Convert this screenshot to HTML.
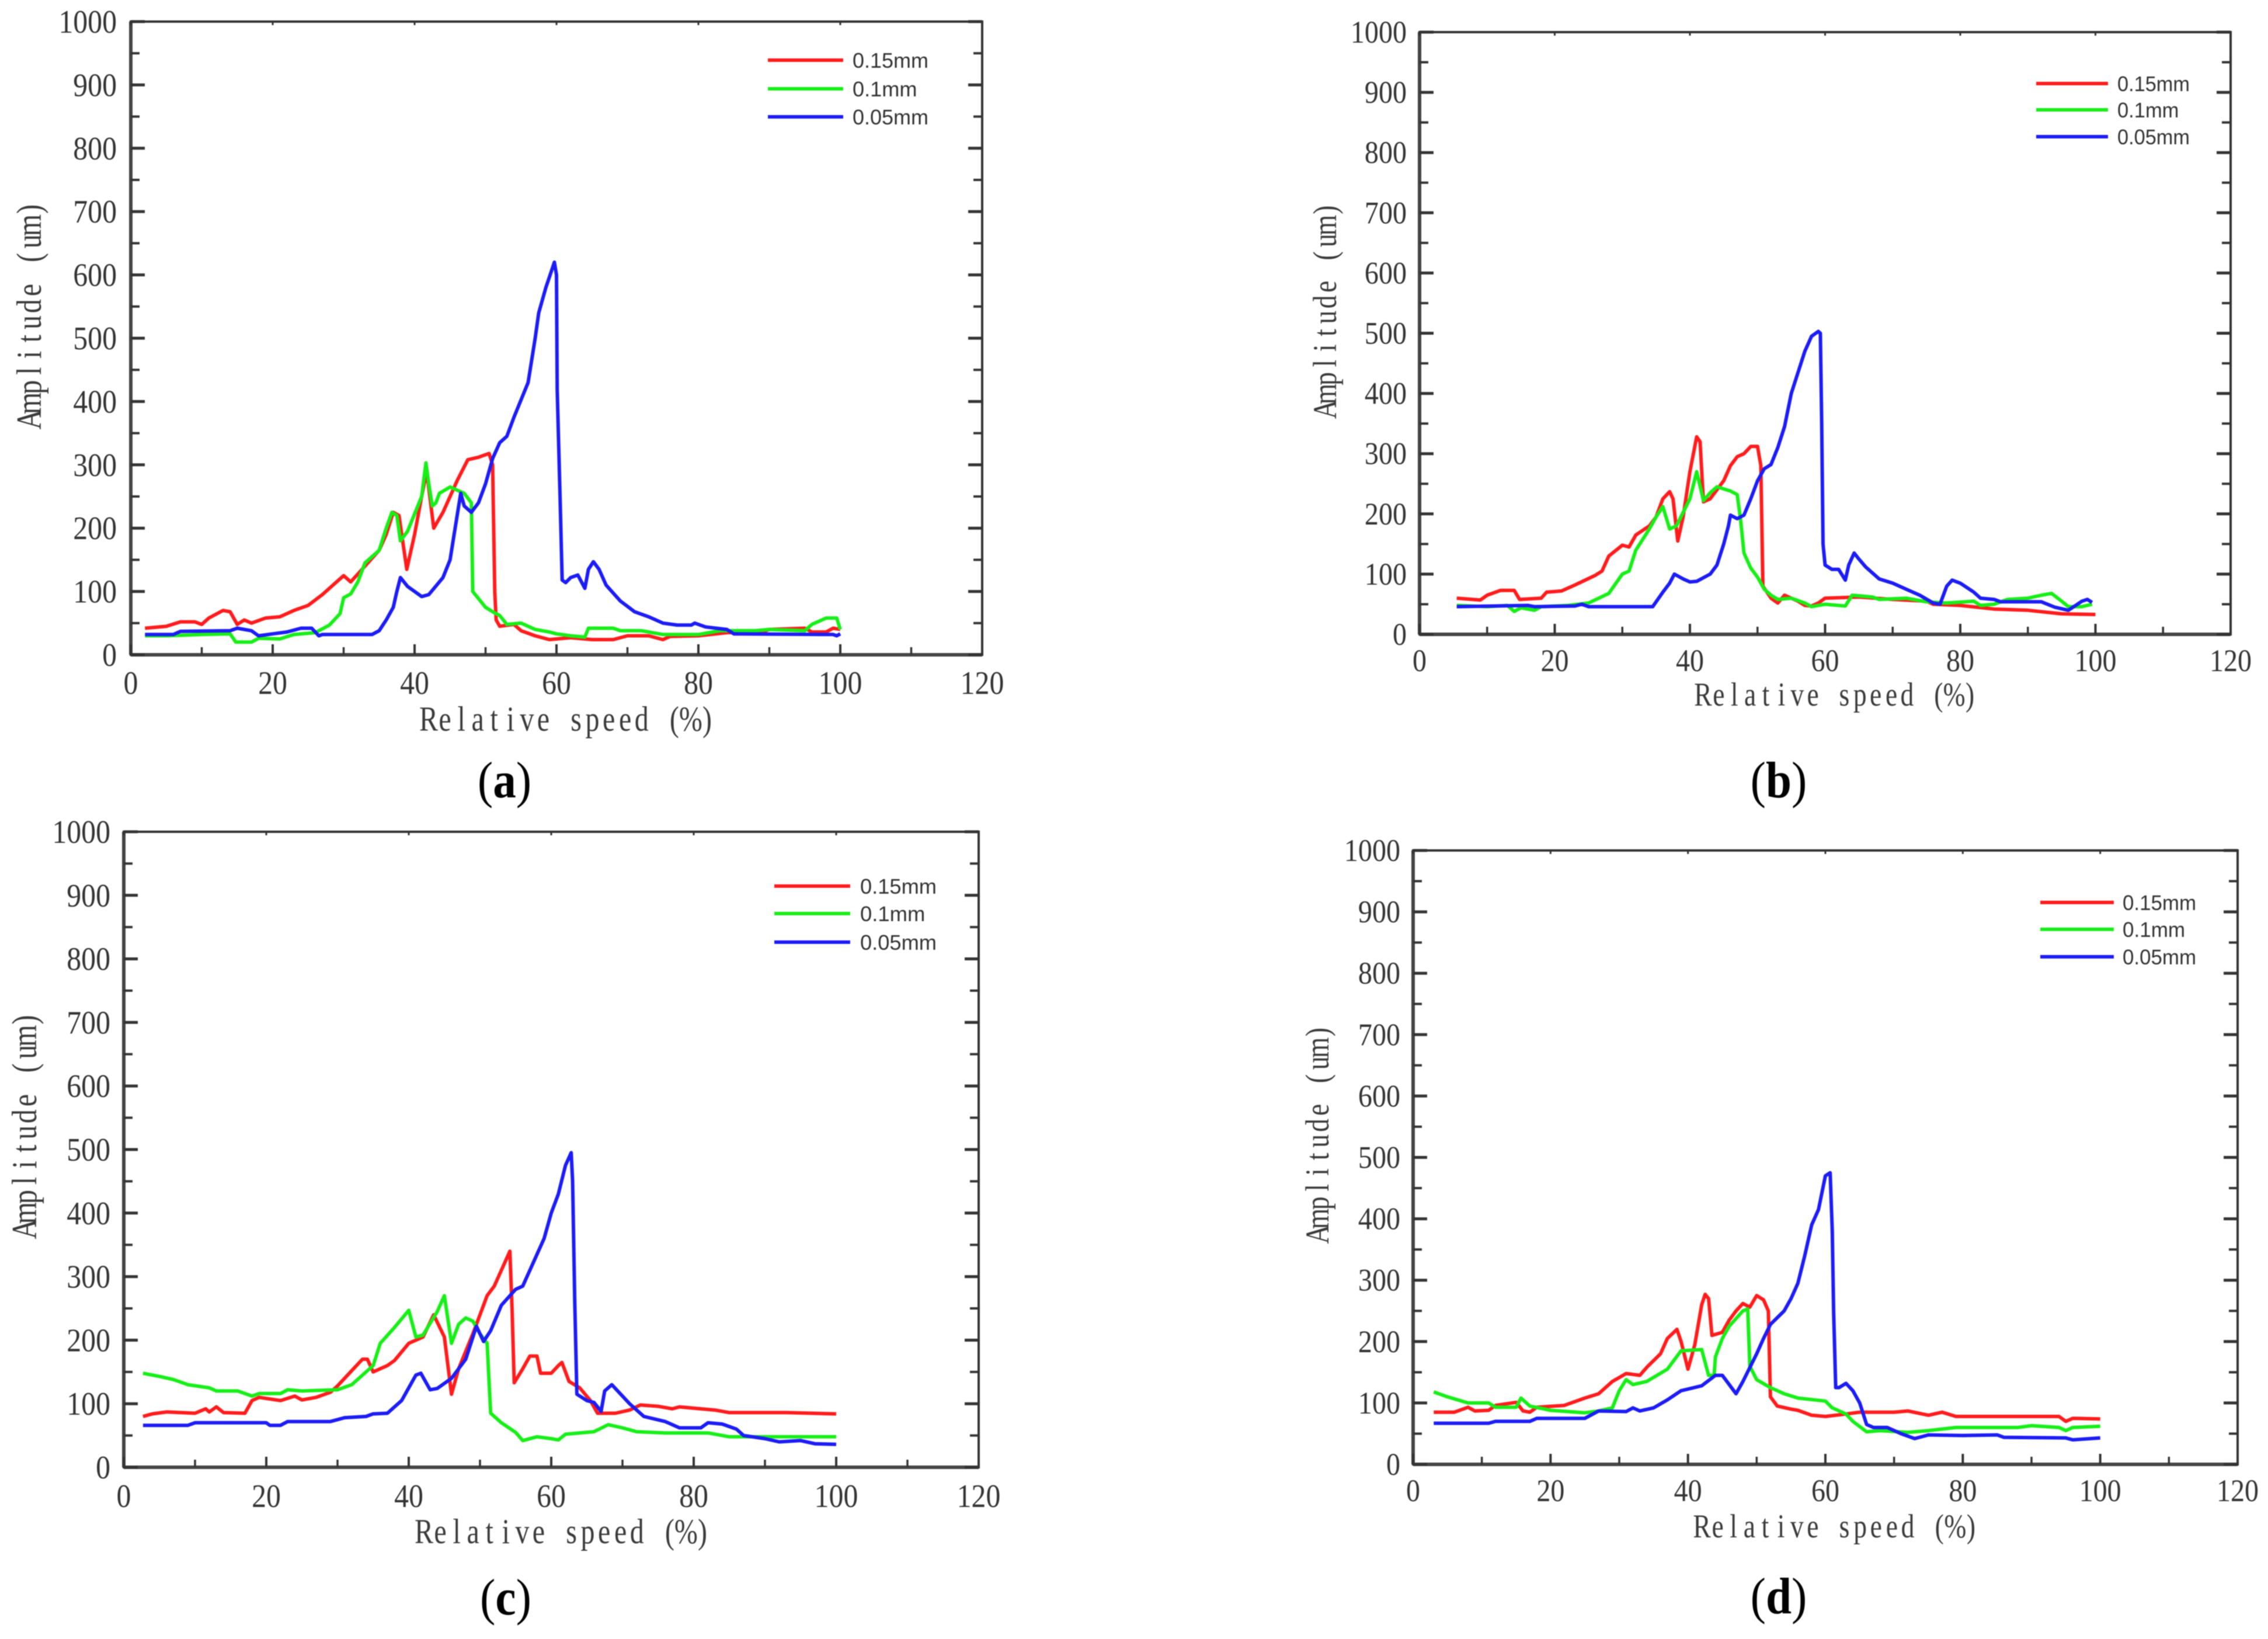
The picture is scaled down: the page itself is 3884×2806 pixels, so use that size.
<!DOCTYPE html>
<html lang="en">
<head>
<meta charset="utf-8">
<title>Amplitude vs relative speed</title>
<style>
html,body{margin:0;padding:0;background:#fff;}
#chart{display:block;width:3884px;height:2806px;filter:blur(0.8px);}
</style>
</head>
<body>
<svg id="chart" xmlns="http://www.w3.org/2000/svg" width="3884" height="2806" viewBox="0 0 3884 2806"></svg>
<script>
const xTickLabels = [0, 20, 40, 60, 80, 100, 120];
const xMinorTicks = [10, 30, 50, 70, 90, 110];
const yTickLabels = [0, 100, 200, 300, 400, 500, 600, 700, 800, 900, 1000];
const yMinorTicks = [50, 150, 250, 350, 450, 550, 650, 750, 850, 950];
const seriesNames = ['0.15mm', '0.1mm', '0.05mm'];

const aRedSpeed = [2,5,7,9,10,11,13,14,15,16,17,19,21,23,25,27,29,30,31,33,35,36,37,37.8,38.9,40,41,41.7,42.7,44,45,46,47.5,49,50.5,51,51.3,51.5,52,54,55,57,59,62,65,68,70,73,75,76,80,84,89,90,95,96,98,99,100];
const aRedAmp = [42,45,52,52,48,58,70,68,48,55,50,58,60,70,78,95,115,125,115,140,165,190,225,220,135,190,250,290,200,225,250,275,308,312,318,300,100,55,45,48,38,30,24,27,24,24,30,30,24,29,30,35,36,40,42,36,36,42,40];
const aGreenSpeed = [2,5,10,14,14.8,17,18,21,23,26,28,29.5,30,31,32,33,35,36,36.8,37.5,38,39,41,41.6,42,42.5,43,43.5,45,47,48,48.2,50,51,52,53,55,57,59,60,62,64,64.5,68,69,72,75,80,83,88,90,95,96,98,99.5,100];
const aGreenAmp = [30,30,32,33,20,20,26,25,32,35,47,65,90,96,115,145,165,200,225,220,180,195,250,303,270,235,240,255,265,255,240,100,75,68,62,48,50,40,36,33,30,28,42,42,38,38,32,32,38,38,40,38,48,58,58,40];
const aBlueSpeed = [2,6,7,14,15,17,18,20,22,24,25.5,26.5,27,34,35,36,37,37.5,38,39,41,42,44,45,45.5,46.5,47,48,49,50,51,52,53,54,56,57,57.5,58.5,59.7,60,60.1,60.5,60.8,61.3,62,63,64,64.5,65.2,66,67,69,71,73,75,77,79,79.5,81,84,85,99,99.5,100];
const aBlueAmp = [32,32,37,38,42,38,30,33,36,42,42,30,32,32,38,55,75,100,122,108,92,95,122,150,185,255,235,225,240,270,310,335,345,375,430,500,540,580,620,600,420,250,118,114,122,126,105,135,147,135,110,85,68,60,50,47,47,50,44,40,33,32,30,33];

const bRedSpeed = [5.5,9,10,12,14,14.8,18,18.8,21,23,26,27,28,30,31,32,34,35,36,37,37.5,38.2,39,40,41,41.5,42,43,45,46,47,48,49,50,50.5,50.8,52,53,54,56,57,58,59,60,65,70,75,76,80,85,90,95,100];
const bRedAmp = [60,57,65,73,73,58,60,70,72,82,98,105,130,148,145,165,180,195,225,237,225,155,195,270,328,320,220,225,255,280,295,300,312,312,280,80,60,52,65,55,48,47,52,60,62,58,55,50,48,42,40,34,33];
const bGreenSpeed = [5.5,10,13,14,15,17,18,22,25,28,30,31,32,34,35,36,37,38,40,41,42,43,44,46,47,47.5,48,49,50,51,52,53,55,57,58,60,63,64,67,68,72,75,78,82,83,85,87,90,92,93.5,95,96,98,99.5];
const bGreenAmp = [48,46,48,38,44,40,46,48,52,68,100,105,140,175,195,212,175,180,225,270,222,235,245,238,232,190,135,110,95,75,65,58,60,52,46,50,47,65,62,58,60,54,52,55,48,50,58,60,65,68,55,46,46,50];
const bBlueSpeed = [5.5,16,17,23,24,25,34.5,36,37,37.7,39,40,41,43,44,45,45.7,46,47,48,49,50,51,52,53,54,55,56,57,58,59,59.3,59.5,59.7,60,61,62,63,63.5,64.3,65,66,68,70,72,74,76,77,78,78.8,80,82,83,85,86,92,94,96,98,98.8,99.5];
const bBlueAmp = [46,48,46,47,50,46,46,70,85,100,92,87,88,100,115,150,180,198,192,198,225,255,275,282,310,345,400,435,470,495,503,500,350,150,115,108,108,90,115,135,125,112,92,85,75,65,52,50,80,90,85,70,60,58,54,54,45,40,55,58,53];

const cRedSpeed = [2.7,4,6,10,11.5,12,13,14,17,18,19,22,24,25,27,29,30,32,33.5,34.2,35,37,38,40,42,43.5,45,46,47,49,50,51,52,53,54.2,54.5,54.8,56,57,58,58.5,60,61,61.5,62.5,64,65.5,66.5,69,71,72.5,75,77,78,83,85,93,100];
const cRedAmp = [80,84,87,85,92,87,95,86,85,105,110,105,112,106,110,118,128,152,170,170,150,160,168,195,205,240,205,115,155,210,240,270,285,310,340,250,133,155,175,175,148,148,160,165,135,125,105,85,85,90,98,96,92,95,90,86,86,84];
const cGreenSpeed = [2.7,5,7,9,12,13,16,18,19,22,23,25,30,32,34,35,36,38,40,41,42,44,45,46,47,48,49,50,51,51.5,53,55,56,58,60,61,62,66,68,70,72,76,82,85,100];
const cGreenAmp = [148,143,138,130,125,120,120,112,116,116,122,120,122,130,150,160,195,220,247,205,208,245,270,195,225,235,230,210,195,85,70,55,42,48,45,43,52,56,67,62,56,54,54,48,48];
const cBlueSpeed = [2.7,9,10,20,20.5,22,23,29,31,34,35,37,39,40,41,41.7,43,44,46,48,49.5,50.5,51.5,53,55,56,57,59,60,61,62,62.8,63,63.3,63.6,65,66,67,67.5,68.5,69.5,71,73,76,78,81,82,84,86,87,90,92,95,97,100];
const cBlueAmp = [66,66,70,70,66,66,72,72,78,80,84,85,105,125,145,148,122,124,140,170,222,198,215,255,280,285,310,360,400,430,475,495,450,260,115,105,102,88,120,130,118,100,80,72,62,62,70,68,60,50,45,40,42,37,36];

const dRedSpeed = [3,6,8,9,11,12,15,16,17,18,22,25,27,29,31,33,34,36,37,38.4,39,40,41,42,42.5,43,43.5,45,46,47,48,49,50,51,51.7,52,53,55,56,58,60,63,65,70,72,75,77,79,85,94,95,96,100];
const dRedAmp = [85,85,93,87,88,96,101,87,85,93,96,108,115,135,148,145,158,180,205,220,200,155,195,260,277,270,210,215,235,250,262,256,275,268,250,110,95,90,88,80,78,82,85,85,87,80,85,78,78,78,70,75,74];
const dGreenSpeed = [3,5,8,11,12,15,15.7,17,20,25,27,29,30,31,32,34,37,38,39,42,43,43.8,44,45,46,48,48.7,49,50,52,54,56,60,61,63,64,66,68,72,75,79,88,90,94,95,96,100];
const dGreenAmp = [118,110,100,100,93,93,108,95,88,84,87,92,120,138,130,135,155,170,185,187,145,145,175,205,225,250,253,160,138,125,115,108,103,92,82,70,53,55,52,55,60,60,63,60,55,60,62];
const dBlueSpeed = [3,11,12,17,18,25,27,31,32,33,35,37,39,42,44,45,47,48,50,51,52,54,55,56,57,58,59,60,60.7,61,61.2,61.5,62,63,64,65,66,67,69,71,73,75,80,85,86,95,96,100];
const dBlueAmp = [67,67,70,70,75,75,87,86,92,87,92,105,120,128,145,145,115,135,180,205,228,250,270,295,340,390,415,470,475,380,250,125,125,132,120,100,65,60,60,50,42,48,47,48,44,43,40,43];

const seriesColors = ['#ff1c1c', '#18ee18', '#1c1cf4'];
const panels = [
  { id:'a', left:224, right:1682, top:37, bottom:1121,
    series:[[aRedSpeed,aRedAmp],[aGreenSpeed,aGreenAmp],[aBlueSpeed,aBlueAmp]],
    tickSize:56, tickSx:0.89, tickGap:24, tickDy:19, xLabelDy:67,
    xTitle:{x:720,y:1251,len:505,size:60}, yTitle:{x:70,y:538,len:388,size:60},
    legend:{x1:1315,x2:1444,tx:1460,tl:130,ys:[103,152,200]}, caption:{x:864,y:1365} },
  { id:'b', left:2431, right:3820, top:55, bottom:1086,
    series:[[bRedSpeed,bRedAmp],[bGreenSpeed,bGreenAmp],[bBlueSpeed,bBlueAmp]],
    tickSize:54, tickSx:0.89, tickGap:22, tickDy:18, xLabelDy:63,
    xTitle:{x:2903,y:1208,len:484,size:57}, yTitle:{x:2288,y:530,len:368,size:57},
    legend:{x1:3487,x2:3610,tx:3626,tl:124,ys:[143,188,234]}, caption:{x:3046,y:1365} },
  { id:'c', left:212, right:1676, top:1424, bottom:2512,
    series:[[cRedSpeed,cRedAmp],[cGreenSpeed,cGreenAmp],[cBlueSpeed,cBlueAmp]],
    tickSize:56, tickSx:0.89, tickGap:23, tickDy:19, xLabelDy:68,
    xTitle:{x:712,y:2642,len:505,size:60}, yTitle:{x:62,y:1925,len:386,size:60},
    legend:{x1:1326,x2:1456,tx:1473,tl:131,ys:[1517,1564,1613]}, caption:{x:866,y:2764} },
  { id:'d', left:2420, right:3832, top:1456, bottom:2507,
    series:[[dRedSpeed,dRedAmp],[dGreenSpeed,dGreenAmp],[dBlueSpeed,dBlueAmp]],
    tickSize:54, tickSx:0.89, tickGap:22, tickDy:18, xLabelDy:63,
    xTitle:{x:2901,y:2632,len:488,size:57}, yTitle:{x:2275,y:1940,len:373,size:57},
    legend:{x1:3494,x2:3620,tx:3635,tl:126,ys:[1545,1591,1638]}, caption:{x:3046,y:2762} }
];

const svg = document.getElementById('chart');
const NS = 'http://www.w3.org/2000/svg';
const SERIF = '"Liberation Serif", serif';
const SANS = '"Liberation Sans", sans-serif';
const X_MAX = 120;
const Y_MAX = 1000;
const TITLE_SX = 0.8;

function make(parent, tag, attrs, text) {
  const node = document.createElementNS(NS, tag);
  for (const key in attrs) node.setAttribute(key, attrs[key]);
  if (text !== undefined) node.textContent = text;
  parent.appendChild(node);
  return node;
}
function xScale(p, v) { return p.left + (p.right - p.left) * v / X_MAX; }
function yScale(p, v) { return p.bottom - (p.bottom - p.top) * v / Y_MAX; }
function glyphColumns(str, len) {
  const pitch = len / str.length / TITLE_SX;
  return Array.from(str).map(function (c, i) { return ((i + 0.5) * pitch).toFixed(1); }).join(' ');
}

panels.forEach(function (p) {
  const g = make(svg, 'g', {});
  
  

  const frame = make(g, 'rect', { x:p.left, y:p.top, width:p.right-p.left, height:p.bottom-p.top, fill:'none', stroke:'#333', 'stroke-width':4 });
  
  

  const bottomAxis = make(g, 'line', { x1:p.left, x2:p.right, y1:p.bottom, y2:p.bottom, stroke:'#444', 'stroke-width':6 });
  
  

  const leftAxis = make(g, 'line', { x1:p.left, x2:p.left, y1:p.top, y2:p.bottom, stroke:'#444', 'stroke-width':6 });
  
  

  xTickLabels.forEach(function (v) {
    const x = xScale(p, v);
    const tick = make(g, 'line', { x1:x, x2:x, y1:p.bottom, y2:p.bottom-18, stroke:'#333', 'stroke-width':4 });
    
    
    const topTick = make(g, 'line', { x1:x, x2:x, y1:p.top, y2:p.top+6, stroke:'#333', 'stroke-width':3 });
    
    
    const label = make(g, 'text', { transform:'translate(' + x + ',' + (p.bottom+p.xLabelDy) + ') scale(' + p.tickSx + ',1)', 'text-anchor':'middle', 'font-family':SERIF, 'font-size':p.tickSize, fill:'#333' }, String(v));
    
    
  });
  xMinorTicks.forEach(function (v) {
    const x = xScale(p, v);
    const tick = make(g, 'line', { x1:x, x2:x, y1:p.bottom, y2:p.bottom-13, stroke:'#333', 'stroke-width':3.5 });
    
    
  });
  yTickLabels.forEach(function (v) {
    const y = yScale(p, v);
    const tickL = make(g, 'line', { x1:p.left, x2:p.left+24, y1:y, y2:y, stroke:'#333', 'stroke-width':5 });
    
    
    const tickR = make(g, 'line', { x1:p.right, x2:p.right-24, y1:y, y2:y, stroke:'#333', 'stroke-width':5 });
    
    
    const label = make(g, 'text', { transform:'translate(' + (p.left-p.tickGap) + ',' + (y+p.tickDy) + ') scale(' + p.tickSx + ',1)', 'text-anchor':'end', 'font-family':SERIF, 'font-size':p.tickSize, fill:'#333' }, String(v));
    
    
  });
  yMinorTicks.forEach(function (v) {
    const y = yScale(p, v);
    const tickL = make(g, 'line', { x1:p.left, x2:p.left+15, y1:y, y2:y, stroke:'#333', 'stroke-width':4 });
    
    
    const tickR = make(g, 'line', { x1:p.right, x2:p.right-15, y1:y, y2:y, stroke:'#333', 'stroke-width':4 });
    
    
  });

  p.series.forEach(function (pair, i) {
    const pts = pair[0].map(function (s, k) { return xScale(p, s).toFixed(1) + ',' + yScale(p, pair[1][k]).toFixed(1); }).join(' ');
    const line = make(g, 'polyline', { points:pts, fill:'none', stroke:seriesColors[i], 'stroke-width':6, 'stroke-linejoin':'round' });
    
    
  });

  const xStr = 'Relative speed (%)';
  const xTitle = make(g, 'text', { transform:'translate(' + p.xTitle.x + ',' + p.xTitle.y + ') scale(' + TITLE_SX + ',1)', x:glyphColumns(xStr, p.xTitle.len), 'text-anchor':'middle', 'font-family':SERIF, 'font-size':p.xTitle.size, fill:'#3a3a3a' }, xStr);
  
  

  const yStr = 'Amplitude (um)';
  const yTitle = make(g, 'text', { transform:'translate(' + p.yTitle.x + ',' + (p.yTitle.y + p.yTitle.len/2) + ') rotate(-90) scale(' + TITLE_SX + ',1)', x:glyphColumns(yStr, p.yTitle.len), 'text-anchor':'middle', 'font-family':SERIF, 'font-size':p.yTitle.size, fill:'#3a3a3a' }, yStr);
  
  

  seriesNames.forEach(function (name, i) {
    const y = p.legend.ys[i];
    const swatch = make(g, 'line', { x1:p.legend.x1, x2:p.legend.x2, y1:y, y2:y, stroke:seriesColors[i], 'stroke-width':6 });
    
    
    const len = name.length === 5 ? p.legend.tl * 0.85 : p.legend.tl;
    const entry = make(g, 'text', { x:p.legend.tx, y:y+13, 'font-family':SANS, 'font-size':36, fill:'#333', textLength:len, lengthAdjust:'spacingAndGlyphs' }, name);
    
    
  });

  const caption = make(g, 'text', { transform:'translate(' + p.caption.x + ',' + p.caption.y + ') scale(0.9,1)', 'text-anchor':'middle', 'font-family':SERIF, 'font-size':88, fill:'#000' });
  
  
  make(caption, 'tspan', {}, '(');
  make(caption, 'tspan', { 'font-weight':'bold' }, p.id);
  make(caption, 'tspan', {}, ')');
});
</script>
</body>
</html>
